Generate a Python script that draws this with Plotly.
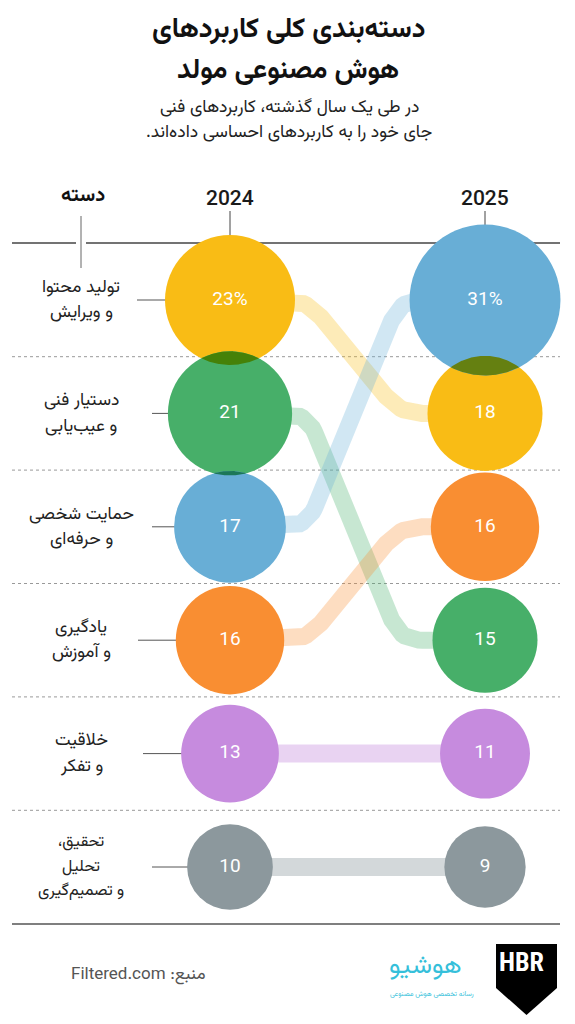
import numpy as np
import plotly.graph_objects as go

# ---------------- data ----------------
categories = [
    "تولید محتوا<br>و ویرایش",
    "دستیار فنی<br>و عیب‌یابی",
    "حمایت شخصی<br>و حرفه‌ای",
    "یادگیری<br>و آموزش",
    "خلاقیت<br>و تفکر",
    "تحقیق،\u200F<br>تحلیل<br>و تصمیم‌گیری",
]
years = ["2024", "2025"]
values_2024 = [23, 21, 17, 16, 13, 10]
values_2025 = [18, 15, 31, 16, 11, 9]
colors = ["#F9BC15", "#47AF69", "#68AED6", "#F98E32", "#C68BDE", "#8C989D"]

title_lines = ["دسته‌بندی کلی کاربردهای", "هوش مصنوعی مولد"]
subtitle_lines = ["در طی یک سال گذشته، کاربردهای فنی", "جای خود را به کاربردهای احساسی داده‌اند.\u200F"]
column_header = "دسته"
source_text = "Filtered.com :منبع"
logo_text = "هوشیو"
logo_sub = "رسانه تخصصی هوش مصنوعی"

# ---------------- layout constants ----------------
W, H = 575, 1024
PAD = 8  # page body margin
X_COL = [230, 485]
ROW_Y0, ROW_STEP = 300, 113.4
R_SCALE = 65 / np.sqrt(23)
X_BEND = [307, 400]
LINE_L, LINE_R = 12, 560
LABEL_X = 81
TICK_START = [137, 152, 152, 138, 143, 152]
FA_FONT = "Vazirmatn, DejaVu Sans, sans-serif"
NUM_FONT = "Roboto, Inter, Arial, sans-serif"


def hex_rgb(h):
    h = h.lstrip("#")
    return tuple(int(h[i:i + 2], 16) for i in (0, 2, 4))


def rgba(h, a):
    r, g, b = hex_rgb(h)
    return f"rgba({r},{g},{b},{a})"


def multiply(h1, h2):
    a, b = hex_rgb(h1), hex_rgb(h2)
    return "rgb(%d,%d,%d)" % tuple(int(x * y / 255) for x, y in zip(a, b))


def row_y(i):
    return ROW_Y0 + ROW_STEP * i


def radius(v):
    return R_SCALE * np.sqrt(v)


def rounded(points, rad=22, n=14):
    pts = [np.array(p, float) for p in points]
    out = [pts[0]]
    for i in range(1, len(pts) - 1):
        p0, p1, p2 = pts[i - 1], pts[i], pts[i + 1]
        v1 = (p0 - p1) / np.linalg.norm(p0 - p1)
        v2 = (p2 - p1) / np.linalg.norm(p2 - p1)
        a, b = p1 + v1 * rad, p1 + v2 * rad
        for t in np.linspace(0, 1, n):
            out.append((1 - t) ** 2 * a + 2 * (1 - t) * t * p1 + t ** 2 * b)
    out.append(pts[-1])
    arr = np.array(out)
    return arr[:, 0], arr[:, 1]


def lens(c1, r1, c2, r2):
    pts = []
    for (ca, ra, cb, rb) in [(c1, r1, c2, r2), (c2, r2, c1, r1)]:
        th = np.linspace(0, 2 * np.pi, 720, endpoint=False)
        xs = ca[0] + ra * np.cos(th)
        ys = ca[1] + ra * np.sin(th)
        inside = (xs - cb[0]) ** 2 + (ys - cb[1]) ** 2 <= rb ** 2
        pts += list(zip(xs[inside], ys[inside]))
    pts = np.array(pts)
    cx, cy = pts[:, 0].mean(), pts[:, 1].mean()
    order = np.argsort(np.arctan2(pts[:, 1] - cy, pts[:, 0] - cx))
    pts = pts[order]
    return list(pts[:, 0]) + [pts[0, 0]], list(pts[:, 1]) + [pts[0, 1]]


# ranks
rank_2024 = list(np.argsort(np.argsort(-np.array(values_2024), kind="stable"), kind="stable"))
rank_2025 = list(np.argsort(np.argsort(-np.array(values_2025), kind="stable"), kind="stable"))

fig = go.Figure()

# connecting lines
for i in range(len(categories)):
    y1, y2 = row_y(rank_2024[i]), row_y(rank_2025[i])
    if abs(y1 - y2) < 1:
        xs, ys = [X_COL[0], X_COL[1]], [y1, y2]
        width, alpha = 18, 0.38
    else:
        xs, ys = rounded([(X_COL[0], y1), (X_BEND[0], y1), (X_BEND[1], y2), (X_COL[1], y2)])
        width, alpha = 17, 0.3
    fig.add_trace(go.Scatter(x=xs, y=ys, mode="lines", hoverinfo="skip",
                             line=dict(color=rgba(colors[i], alpha), width=width)))

# circles
for col, vals, ranks in [(0, values_2024, rank_2024), (1, values_2025, rank_2025)]:
    fig.add_trace(go.Scatter(
        x=[X_COL[col]] * len(vals), y=[row_y(r) for r in ranks], mode="markers",
        hoverinfo="skip",
        marker=dict(size=[2 * radius(v) for v in vals], color=colors, opacity=1,
                    line=dict(width=0)),
    ))

# overlaps (multiply look)
for col, vals, ranks in [(0, values_2024, rank_2024), (1, values_2025, rank_2025)]:
    by_rank = sorted(range(len(vals)), key=lambda k: ranks[k])
    for a, b in zip(by_rank[:-1], by_rank[1:]):
        ra, rb = radius(vals[a]), radius(vals[b])
        ya, yb = row_y(ranks[a]), row_y(ranks[b])
        if ra + rb > abs(yb - ya):
            lx, ly = lens((X_COL[col], ya), ra, (X_COL[col], yb), rb)
            fig.add_trace(go.Scatter(x=lx, y=ly, mode="lines", fill="toself",
                                     fillcolor=multiply(colors[a], colors[b]),
                                     line=dict(width=0), hoverinfo="skip"))

# value labels
for col, vals, ranks in [(0, values_2024, rank_2024), (1, values_2025, rank_2025)]:
    top = min(range(len(vals)), key=lambda k: ranks[k])
    fig.add_trace(go.Scatter(
        x=[X_COL[col]] * len(vals), y=[row_y(r) for r in ranks], mode="text",
        text=[f"{v}%" if k == top else f"{v}" for k, v in enumerate(vals)],
        textfont=dict(family=NUM_FONT, size=19, color="white"),
        textposition="middle center", hoverinfo="skip",
    ))

shapes = []
ann = []
# top rule with gap around category tick
shapes.append(dict(type="line", x0=LINE_L, x1=LABEL_X - 5, y0=243, y1=243,
                   line=dict(color="#444", width=1.3), layer="below"))
shapes.append(dict(type="line", x0=LABEL_X + 5, x1=LINE_R, y0=243, y1=243,
                   line=dict(color="#444", width=1.3), layer="below"))
shapes.append(dict(type="line", x0=LABEL_X, x1=LABEL_X, y0=216, y1=268,
                   line=dict(color="#666", width=1), layer="below"))
# year ticks
for k, yr in enumerate(years):
    shapes.append(dict(type="line", x0=X_COL[k], x1=X_COL[k], y0=211, y1=250,
                       line=dict(color="#444", width=1), layer="below"))
    ann.append(dict(x=X_COL[k], y=198, text=yr, showarrow=False,
                    font=dict(family=NUM_FONT, size=21, color="#1a1a1a", weight=500)))
ann.append(dict(x=LABEL_X + 2, y=196, text=f"<b>{column_header}</b>", showarrow=False,
                font=dict(family=FA_FONT, size=20, color="#111")))

# dashed separators
for i in range(len(categories) - 1):
    yy = (row_y(i) + row_y(i + 1)) / 2
    shapes.append(dict(type="line", x0=LINE_L, x1=LINE_R, y0=yy, y1=yy,
                       line=dict(color="#999", width=1, dash="3px,3px"), layer="below"))

# row labels + ticks
for i, cat in enumerate(categories):
    r = rank_2024[i]
    shapes.append(dict(type="line", x0=TICK_START[r], x1=X_COL[0], y0=row_y(r), y1=row_y(r),
                       line=dict(color="#555", width=1), layer="below"))
    parts = cat.split("<br>")
    n = len(parts)
    step, fsize = (25.5, 17.5) if n == 2 else (24.5, 16)
    for k, p in enumerate(parts):
        ann.append(dict(x=LABEL_X, y=row_y(r) + (k - (n - 1) / 2) * step, text=p,
                        showarrow=False, align="center",
                        font=dict(family=FA_FONT, size=fsize, color="#222")))

# bottom rule
shapes.append(dict(type="line", x0=LINE_L, x1=LINE_R, y0=924, y1=924,
                   line=dict(color="#555", width=1.5), layer="below"))

# title / subtitle
for k, t in enumerate(title_lines):
    ann.append(dict(x=288, y=30 + 41 * k, text=f"<b>{t}</b>", showarrow=False,
                    font=dict(family=FA_FONT, size=27.5, color="#111")))
for k, t in enumerate(subtitle_lines):
    ann.append(dict(x=289, y=107 + 25 * k, text=t, showarrow=False,
                    font=dict(family=FA_FONT, size=17.5, color="#222")))

# footer
ann.append(dict(x=138, y=975, text=source_text, showarrow=False,
                font=dict(family=FA_FONT, size=17, color="#555")))
ann.append(dict(x=425, y=966, text=logo_text, showarrow=False,
                font=dict(family=FA_FONT, size=26, color="#35BFDA")))
ann.append(dict(x=432, y=994, text=logo_sub, showarrow=False,
                font=dict(family=FA_FONT, size=7, color="#35BFDA")))
shapes.append(dict(type="path", path="M 496 944 L 557 944 L 557 988 L 526.5 1015 L 496 988 Z",
                   fillcolor="#000", line=dict(width=0)))
ann.append(dict(x=521, y=962, text="<b>HBR</b>", showarrow=False,
                font=dict(family="Liberation Sans Narrow, Roboto Condensed, Roboto, sans-serif",
                          size=26, color="white")))

for a in ann:
    a.setdefault("xref", "x")
    a.setdefault("yref", "y")

fig.update_layout(
    width=W - 2 * PAD, height=H - 2 * PAD, margin=dict(l=0, r=0, t=0, b=0),
    paper_bgcolor="white", plot_bgcolor="white", showlegend=False,
    xaxis=dict(range=[PAD, W - PAD], visible=False, fixedrange=True),
    yaxis=dict(range=[H - PAD, PAD], visible=False, fixedrange=True),
    shapes=shapes, annotations=ann,
)

fig.write_html("out.html", config={"displayModeBar": False})
